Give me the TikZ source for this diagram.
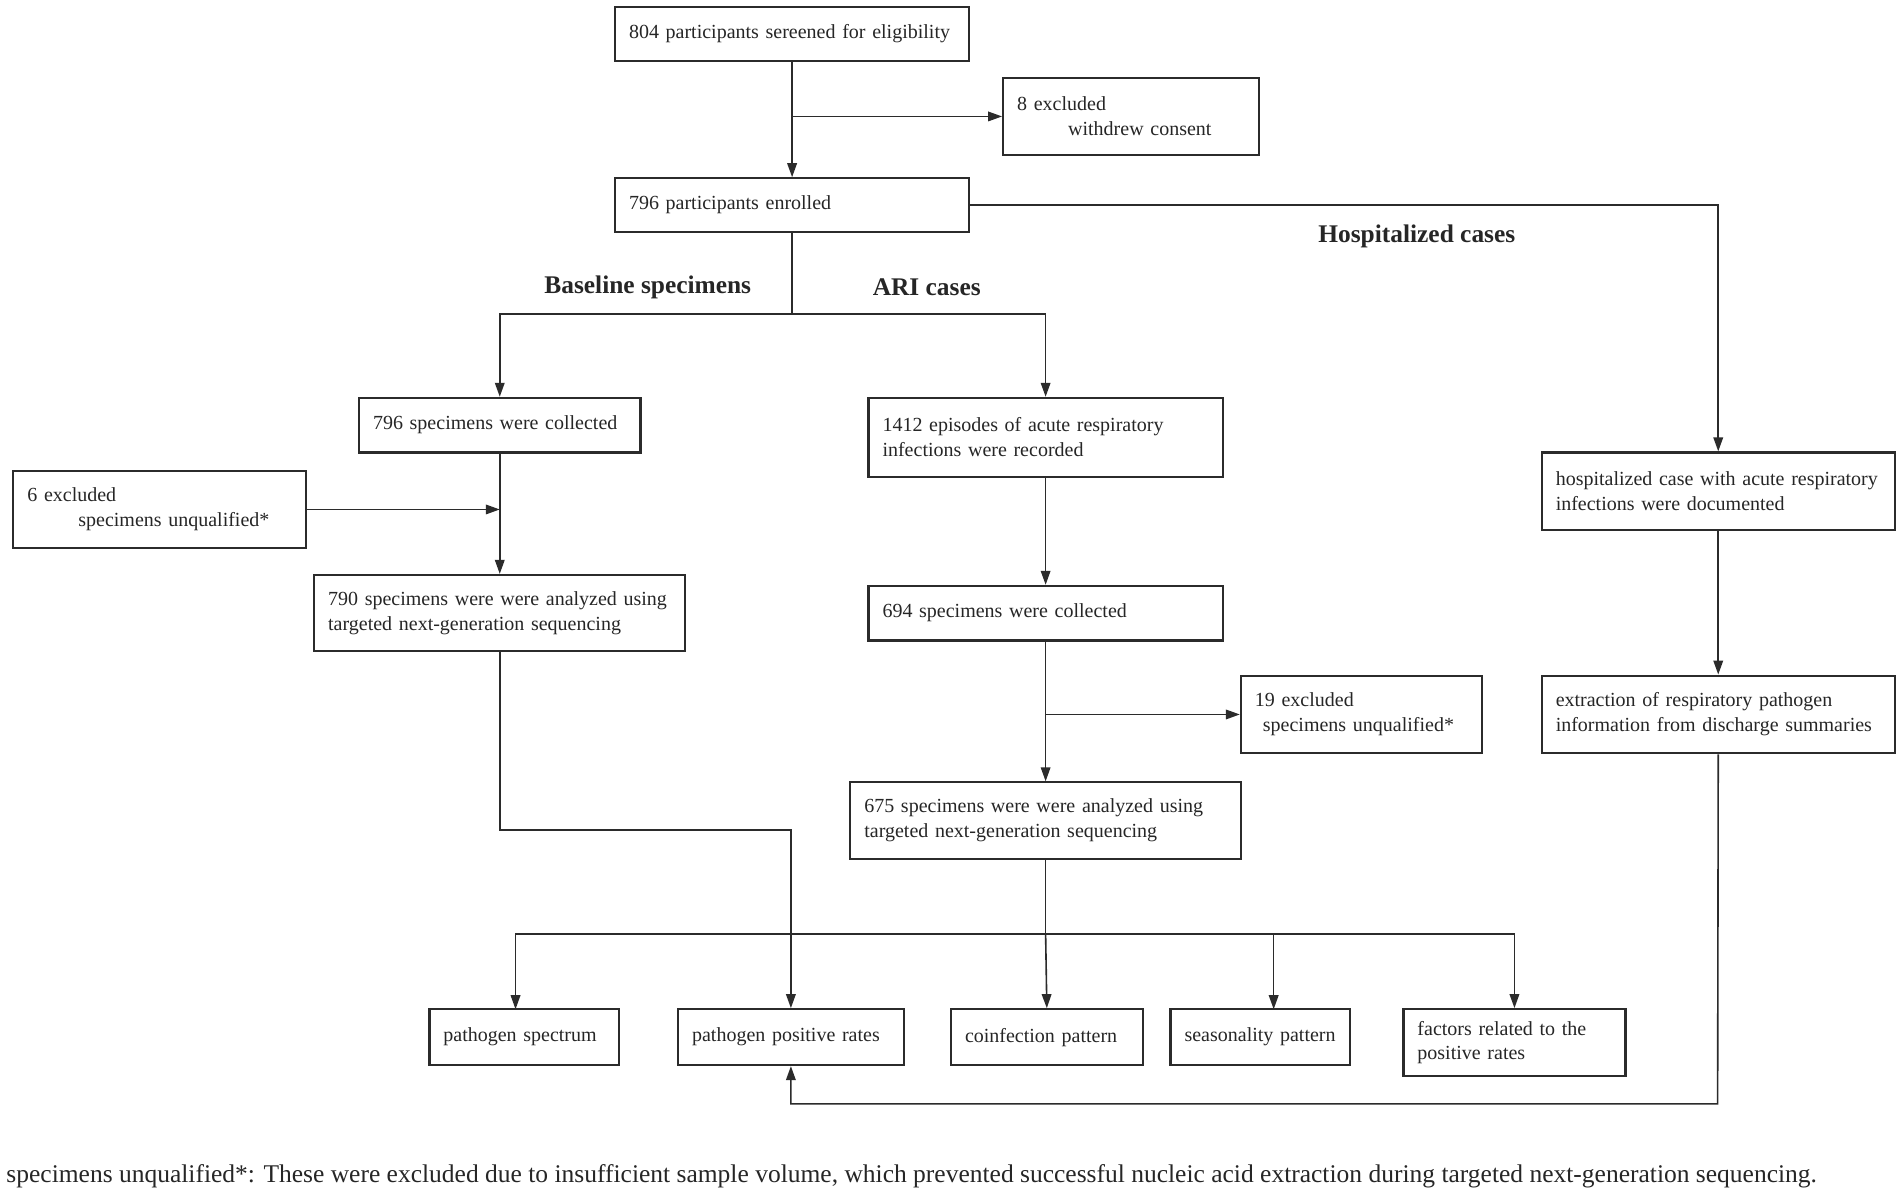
\documentclass[tikz,border=0pt]{standalone}
\usepackage{fontspec}
\setmainfont{Liberation Serif}
\usetikzlibrary{arrows.meta,calc}
\definecolor{lncol}{HTML}{2B2B2B}
\tikzset{
 box/.style={draw=lncol, line width=1.1pt, inner xsep=7pt, inner ysep=0pt, align=left, font=\fontsize{10}{12.4}\selectfont, text=black!85},
 arr/.style={draw=lncol, line width=0.8pt, -{Triangle[length=7pt,width=4.8pt]}},
 plain/.style={draw=lncol, line width=0.8pt},
 head/.style={font=\fontsize{12.7}{14}\selectfont\bfseries, text=black!85}
}
\newcommand\mybox[6]{%
 \pgfmathsetmacro\bw{(#4-#2)*0.6065}%
 \pgfmathsetmacro\bh{(#5-#3)*0.6065}%
 \pgfmathsetmacro\tw{\bw-14}%
 \node[box,minimum width=\bw pt,minimum height=\bh pt,text width=\tw pt] (#1) at ({(#2+#4)/2},{(#3+#5)/2}) {#6};}
\begin{document}
\begin{tikzpicture}[x=0.6065pt,y=-0.6065pt]
\useasboundingbox[fill=white] (0,0) rectangle (1568,986);
\mybox{top}{507}{6}{799}{50}{804 participants sereened for eligibility}
\mybox{ex1}{827}{64}{1038}{128}{8 excluded\\\hspace*{25.5pt}withdrew consent}
\mybox{enr}{507}{147}{799}{191}{796 participants enrolled}
\mybox{sp1}{296}{328}{528}{373}{796 specimens were collected}
\mybox{ari}{716}{328}{1008}{393}{1412 episodes of acute respiratory\\infections were recorded}
\mybox{ex2}{11}{388}{252}{452}{6 excluded\\\hspace*{25.5pt}specimens unqualified*}
\mybox{an1}{259}{474}{565}{537}{790 specimens were were analyzed using\\targeted next-generation sequencing}
\mybox{sp2}{716}{483}{1008}{528}{694 specimens were collected}
\mybox{ex3}{1023}{557}{1222}{621}{19 excluded\\\hspace*{4pt}specimens unqualified*}
\mybox{an2}{701}{645}{1023}{708}{675 specimens were were analyzed using\\targeted next-generation sequencing}
\mybox{hos}{1271}{373}{1562}{437}{hospitalized case with acute respiratory\\infections were documented}
\mybox{ext}{1271}{557}{1562}{621}{extraction of respiratory pathogen\\information from discharge summaries}
\mybox{o1}{354}{832}{510}{878}{pathogen spectrum}
\mybox{o2}{559}{832}{745}{878}{pathogen positive rates}
\mybox{o3}{784}{832}{942}{878}{coinfection pattern}
\mybox{o4}{965}{832}{1113}{878}{seasonality pattern}
\mybox{o5}{1157}{832}{1340}{887}{factors related to the\\positive rates}

\node[head] (h1) at (534,237) {Baseline specimens};
\node[head] (h2) at (764,237) {ARI cases};
\node[head] (h3) at (1168,195) {Hospitalized cases};

\coordinate (b1) at (653,259);
\coordinate (b2) at (412,684);
\coordinate (b3) at (862,770);
\coordinate (b4) at (1416,910);
\coordinate (t1) at (425,832);
\coordinate (t4) at (1050,832);

\draw[arr] (top) -- (enr);
\draw[arr] (top.south |- ex1.west) -- (ex1.west);
\draw[plain] (enr.south) -- (b1);
\draw[arr] (b1) -| (sp1.north);
\draw[arr] (b1) -| (ari.north);
\draw[arr] (enr.east) -| (hos.north);
\draw[arr] (sp1) -- (an1);
\draw[arr] (ex2.east) -- (ex2.east -| sp1.south);
\draw[arr] (ari) -- (sp2);
\draw[arr] (sp2) -- (an2);
\draw[arr] (sp2.south |- ex3.west) -- (ex3.west);
\draw[arr] (hos) -- (ext);
\draw[arr] (an1.south) -- (b2) -| (o2.north);
\draw[plain] (an2.south) -- (b3);
\draw[arr] (b3) -| (t1);
\draw[arr] (b3) -- (o3.north);
\draw[arr] (b3) -| (t4);
\draw[arr] (b3) -| (o5.north);
\draw[arr] (ext.south) -- (b4) -| (o2.south);

\node[anchor=west, inner sep=0pt, font=\fontsize{12.75}{14}\selectfont, text=black!85] (fn) at (5,970) {specimens unqualified*: These were excluded due to insufficient sample volume, which prevented successful nucleic acid extraction during targeted next-generation sequencing.};
\end{tikzpicture}
\end{document}
